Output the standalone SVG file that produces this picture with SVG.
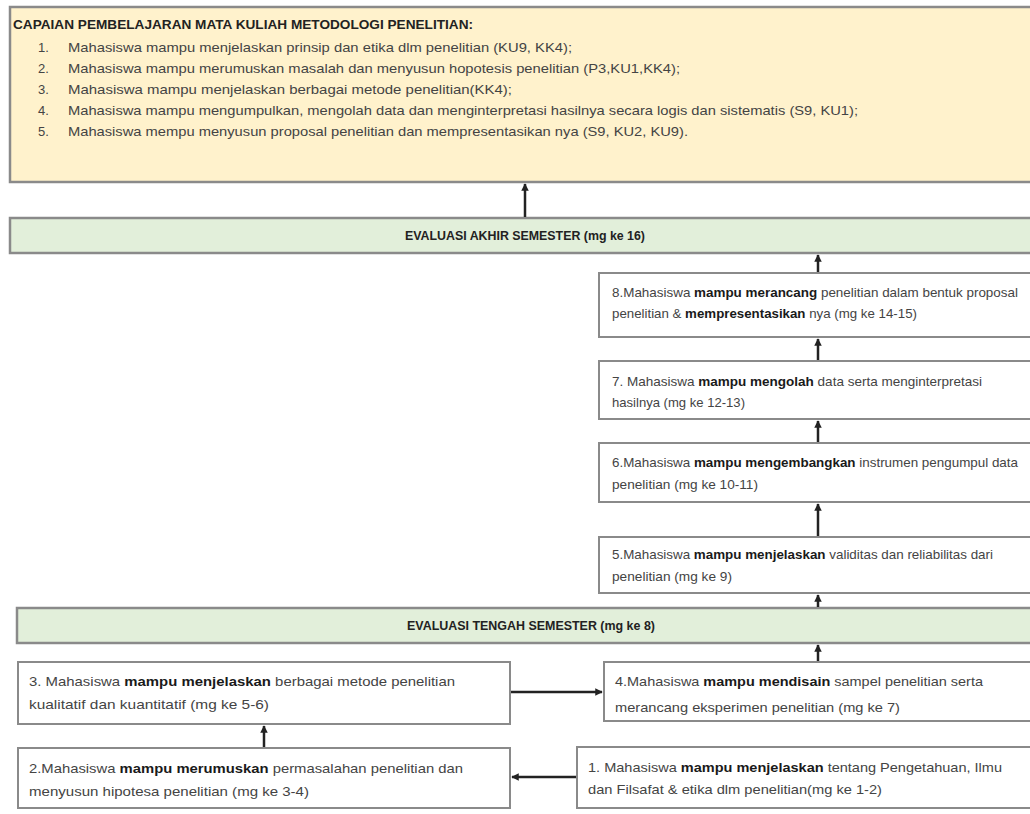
<svg xmlns="http://www.w3.org/2000/svg" width="1030" height="814" viewBox="0 0 1030 814">
<style>
.t{font-family:"Liberation Sans",Arial,sans-serif;font-size:13px;fill:#444}
.b{font-weight:bold;fill:#1a1a1a}
.h{font-family:"Liberation Sans",Arial,sans-serif;font-size:12px;font-weight:bold;fill:#222}
.box{fill:#fff;stroke:#8a8a8a;stroke-width:2}
.cream{fill:#FFF2CC;stroke:#8a8a8a;stroke-width:2.5}
.green{fill:#E2EFDA;stroke:#8a8a8a;stroke-width:2.5}
.c{stroke:#222;stroke-width:2.5;fill:none;marker-end:url(#ah)}
</style>
<defs>
<marker id="ah" viewBox="0 0 10 10" refX="9" refY="5" markerWidth="3" markerHeight="3" orient="auto" markerUnits="strokeWidth">
<path d="M0,0 L10,5 L0,10 z" fill="#222"/>
</marker>
</defs>
<rect width="1030" height="814" fill="#fff"/>

<g id="capaian">
<rect class="cream" x="10" y="7" width="1040" height="175"/>
<text class="h" x="13" y="29" textLength="460" lengthAdjust="spacingAndGlyphs">CAPAIAN PEMBELAJARAN MATA KULIAH METODOLOGI PENELITIAN:</text>
<text class="t" x="38" y="52">1.</text>
<text class="t" x="68" y="52" textLength="504" lengthAdjust="spacingAndGlyphs">Mahasiswa mampu menjelaskan prinsip dan etika dlm penelitian (KU9, KK4);</text>
<text class="t" x="38" y="73">2.</text>
<text class="t" x="68" y="73" textLength="612" lengthAdjust="spacingAndGlyphs">Mahasiswa mampu merumuskan masalah dan menyusun hopotesis penelitian (P3,KU1,KK4);</text>
<text class="t" x="38" y="94">3.</text>
<text class="t" x="68" y="94" textLength="444" lengthAdjust="spacingAndGlyphs">Mahasiswa mampu menjelaskan berbagai metode penelitian(KK4);</text>
<text class="t" x="38" y="115">4.</text>
<text class="t" x="68" y="115" textLength="790" lengthAdjust="spacingAndGlyphs">Mahasiswa mampu mengumpulkan, mengolah data dan menginterpretasi hasilnya secara logis dan sistematis (S9, KU1);</text>
<text class="t" x="38" y="136">5.</text>
<text class="t" x="68" y="136" textLength="620" lengthAdjust="spacingAndGlyphs">Mahasiswa mempu menyusun proposal penelitian dan mempresentasikan nya (S9, KU2, KU9).</text>
</g>

<g id="uas">
<rect class="green" x="10" y="218" width="1040" height="35"/>
<text class="h" x="405" y="240" textLength="240" lengthAdjust="spacingAndGlyphs">EVALUASI AKHIR SEMESTER (mg ke 16)</text>
</g>

<g id="n8">
<rect class="box" x="599" y="273" width="450" height="64"/>
<text class="t" x="612" y="297" textLength="406" lengthAdjust="spacingAndGlyphs">8.Mahasiswa <tspan class="b">mampu merancang</tspan> penelitian dalam bentuk proposal</text>
<text class="t" x="612" y="318" textLength="305" lengthAdjust="spacingAndGlyphs">penelitian &amp; <tspan class="b">mempresentasikan</tspan> nya (mg ke 14-15)</text>
</g>

<g id="n7">
<rect class="box" x="599" y="361" width="450" height="58"/>
<text class="t" x="612" y="386" textLength="370" lengthAdjust="spacingAndGlyphs">7. Mahasiswa <tspan class="b">mampu mengolah</tspan> data serta menginterpretasi</text>
<text class="t" x="612" y="407" textLength="133" lengthAdjust="spacingAndGlyphs">hasilnya (mg ke 12-13)</text>
</g>

<g id="n6">
<rect class="box" x="599" y="443" width="450" height="59"/>
<text class="t" x="612" y="467" textLength="406" lengthAdjust="spacingAndGlyphs">6.Mahasiswa <tspan class="b">mampu mengembangkan</tspan> instrumen pengumpul data</text>
<text class="t" x="612" y="489" textLength="146" lengthAdjust="spacingAndGlyphs">penelitian (mg ke 10-11)</text>
</g>

<g id="n5">
<rect class="box" x="599" y="537" width="450" height="56"/>
<text class="t" x="612" y="559" textLength="381" lengthAdjust="spacingAndGlyphs">5.Mahasiswa <tspan class="b">mampu menjelaskan</tspan> validitas dan reliabilitas dari</text>
<text class="t" x="612" y="581" textLength="120" lengthAdjust="spacingAndGlyphs">penelitian (mg ke 9)</text>
</g>

<g id="uts">
<rect class="green" x="17" y="608" width="1040" height="35"/>
<text class="h" x="407" y="630" textLength="248" lengthAdjust="spacingAndGlyphs">EVALUASI TENGAH SEMESTER (mg ke 8)</text>
</g>

<g id="n3">
<rect class="box" x="18" y="662" width="492" height="62"/>
<text class="t" x="29" y="686" textLength="426" lengthAdjust="spacingAndGlyphs">3. Mahasiswa <tspan class="b">mampu menjelaskan</tspan> berbagai metode penelitian</text>
<text class="t" x="29" y="709" textLength="240" lengthAdjust="spacingAndGlyphs">kualitatif dan kuantitatif (mg ke 5-6)</text>
</g>

<g id="n4">
<rect class="box" x="604" y="662" width="450" height="59"/>
<text class="t" x="615" y="686" textLength="368" lengthAdjust="spacingAndGlyphs">4.Mahasiswa <tspan class="b">mampu mendisain</tspan> sampel penelitian serta</text>
<text class="t" x="615" y="712" textLength="285" lengthAdjust="spacingAndGlyphs">merancang eksperimen penelitian (mg ke 7)</text>
</g>

<g id="n2">
<rect class="box" x="18" y="748" width="492" height="60"/>
<text class="t" x="29" y="773" textLength="434" lengthAdjust="spacingAndGlyphs">2.Mahasiswa <tspan class="b">mampu merumuskan</tspan> permasalahan penelitian dan</text>
<text class="t" x="29" y="796" textLength="280" lengthAdjust="spacingAndGlyphs">menyusun hipotesa penelitian (mg ke 3-4)</text>
</g>

<g id="n1">
<rect class="box" x="577" y="747" width="470" height="61"/>
<text class="t" x="588" y="772" textLength="414" lengthAdjust="spacingAndGlyphs">1. Mahasiswa <tspan class="b">mampu menjelaskan</tspan> tentang Pengetahuan, Ilmu</text>
<text class="t" x="588" y="794" textLength="294" lengthAdjust="spacingAndGlyphs">dan Filsafat &amp; etika dlm penelitian(mg ke 1-2)</text>
</g>

<g id="connectors">
<path class="c" d="M525,217 V184"/>
<path class="c" d="M818,272 V255"/>
<path class="c" d="M818,360 V339"/>
<path class="c" d="M818,442 V421"/>
<path class="c" d="M818,536 V504"/>
<path class="c" d="M818,607 V595"/>
<path class="c" d="M818,661 V645"/>
<path class="c" d="M264,747 V726"/>
<path class="c" d="M511,692 H602"/>
<path class="c" d="M576,777 H512"/>
</g>
</svg>
